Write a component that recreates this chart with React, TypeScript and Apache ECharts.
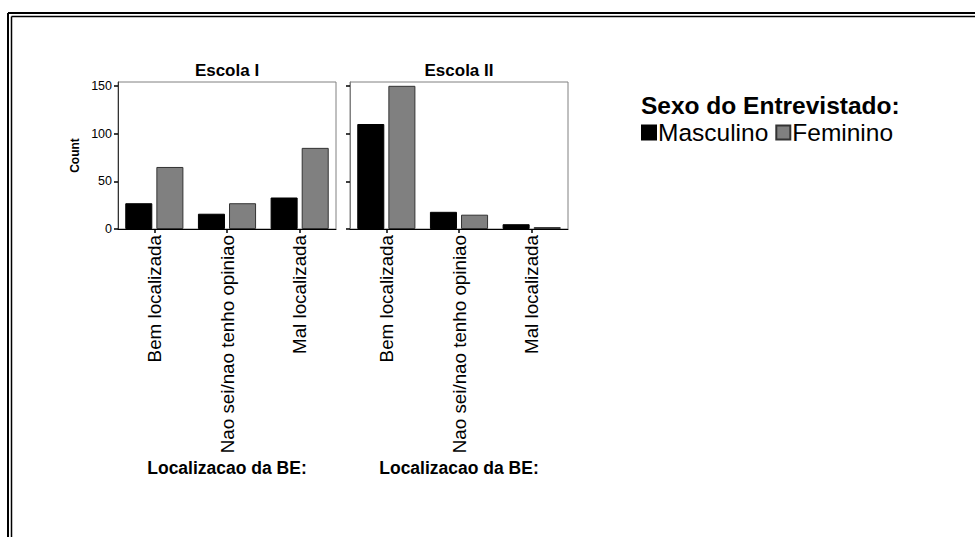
import React, { useEffect, useRef } from "react";
import * as echarts from "echarts";

const categories = ["Bem localizada", "Nao sei/nao tenho opiniao", "Mal localizada"];
const panelTitles = ["Escola I", "Escola II"];
const seriesNames = ["Masculino", "Feminino"];
const escola1Masculino = [27, 16, 33];
const escola1Feminino = [65, 27, 85];
const escola2Masculino = [110, 18, 5];
const escola2Feminino = [150, 15, 2];
const yTicks = [0, 50, 100, 150];

const FONT = "Liberation Sans, Arial, sans-serif";

export default function App() {
  const ref = useRef<HTMLDivElement>(null);
  useEffect(() => {
    if (!ref.current) return;
    const chart = echarts.init(ref.current, null, { renderer: "svg" });
    const gridW = 218;
    const grids = [
      { left: 118, top: 82, width: gridW, height: 147 },
      { left: 350, top: 82, width: gridW, height: 147 },
    ];
    const xAxes = grids.map((_, i) => ({
      type: "category",
      gridIndex: i,
      data: categories,
      axisLine: { show: true, lineStyle: { color: "#000", width: 1 } },
      axisTick: { show: true, alignWithLabel: true, length: 4, lineStyle: { color: "#000", width: 1.5 } },
      axisLabel: { rotate: 90, fontSize: 18.8, color: "#000", fontFamily: FONT, margin: 6, interval: 0 },
      name: "Localizacao da BE:",
      nameLocation: "middle",
      nameGap: 230,
      nameTextStyle: { fontSize: 17.5, fontWeight: "bold", color: "#000", fontFamily: FONT },
    }));
    const yAxes = grids.map((_, i) => ({
      type: "value",
      gridIndex: i,
      min: 0,
      max: 154,
      interval: 50,
      splitLine: { show: false },
      axisLine: { show: true, lineStyle: { color: i === 0 ? "#333" : "#808080", width: 1 } },
      axisTick: { show: true, length: 4, customValues: yTicks, lineStyle: { color: "#000", width: 1.5 } },
      axisLabel: { show: i === 0, customValues: yTicks, fontSize: 12.5, color: "#000", fontFamily: FONT, margin: 6 },
      name: i === 0 ? "Count" : "",
      nameLocation: "middle",
      nameRotate: 90,
      nameGap: 37,
      nameTextStyle: { fontSize: 12, fontWeight: "bold", color: "#000", fontFamily: FONT },
    }));
    const mk = (name: string, data: number[], idx: number, color: string, border: string) => ({
      type: "bar",
      name,
      xAxisIndex: idx,
      yAxisIndex: idx,
      data,
      barCategoryGap: "20%",
      barGap: "15%",
      itemStyle: { color, borderColor: border, borderWidth: 1 },
    });
    chart.setOption({
      animation: false,
      backgroundColor: "#fff",
      textStyle: { fontFamily: FONT },
      title: [
        { text: panelTitles[0], left: 227, top: 62, textAlign: "center", padding: 0,
          textStyle: { fontSize: 17, fontWeight: "bold", color: "#000", fontFamily: FONT } },
        { text: panelTitles[1], left: 459, top: 62, textAlign: "center", padding: 0,
          textStyle: { fontSize: 17, fontWeight: "bold", color: "#000", fontFamily: FONT } },
        { text: "Sexo do Entrevistado:", left: 641, top: 93, padding: 0,
          textStyle: { fontSize: 24.5, fontWeight: "bold", color: "#000", fontFamily: FONT } },
      ],
      legend: {
        data: seriesNames,
        left: 641,
        top: 120,
        padding: 0,
        itemWidth: 14,
        itemHeight: 14,
        itemGap: 7,
        icon: "rect",
        textStyle: { fontSize: 24.5, color: "#000", fontFamily: FONT, padding: [0, 0, 0, -3] },
      },
      grid: grids.map((g) => ({ ...g, show: true, borderColor: "#808080", borderWidth: 1, backgroundColor: "transparent" })),
      xAxis: xAxes,
      yAxis: yAxes,
      series: [
        mk(seriesNames[0], escola1Masculino, 0, "#000", "#000"),
        mk(seriesNames[1], escola1Feminino, 0, "#808080", "#333"),
        mk(seriesNames[0], escola2Masculino, 1, "#000", "#000"),
        mk(seriesNames[1], escola2Feminino, 1, "#808080", "#333"),
      ],
      graphic: [
        { type: "line", shape: { x1: 8, y1: 13, x2: 975, y2: 13 }, style: { stroke: "#000", lineWidth: 2 } },
        { type: "line", shape: { x1: 8, y1: 13, x2: 8, y2: 537 }, style: { stroke: "#000", lineWidth: 2 } },
        { type: "line", shape: { x1: 11.5, y1: 16.5, x2: 975, y2: 16.5 }, style: { stroke: "#000", lineWidth: 1.5 } },
        { type: "line", shape: { x1: 11.5, y1: 16.5, x2: 11.5, y2: 537 }, style: { stroke: "#000", lineWidth: 1.5 } },
      ],
    });
    return () => chart.dispose();
  }, []);
  return <div ref={ref} style={{ position: "fixed", left: 0, top: 0, width: 975, height: 537 }} />;
}
